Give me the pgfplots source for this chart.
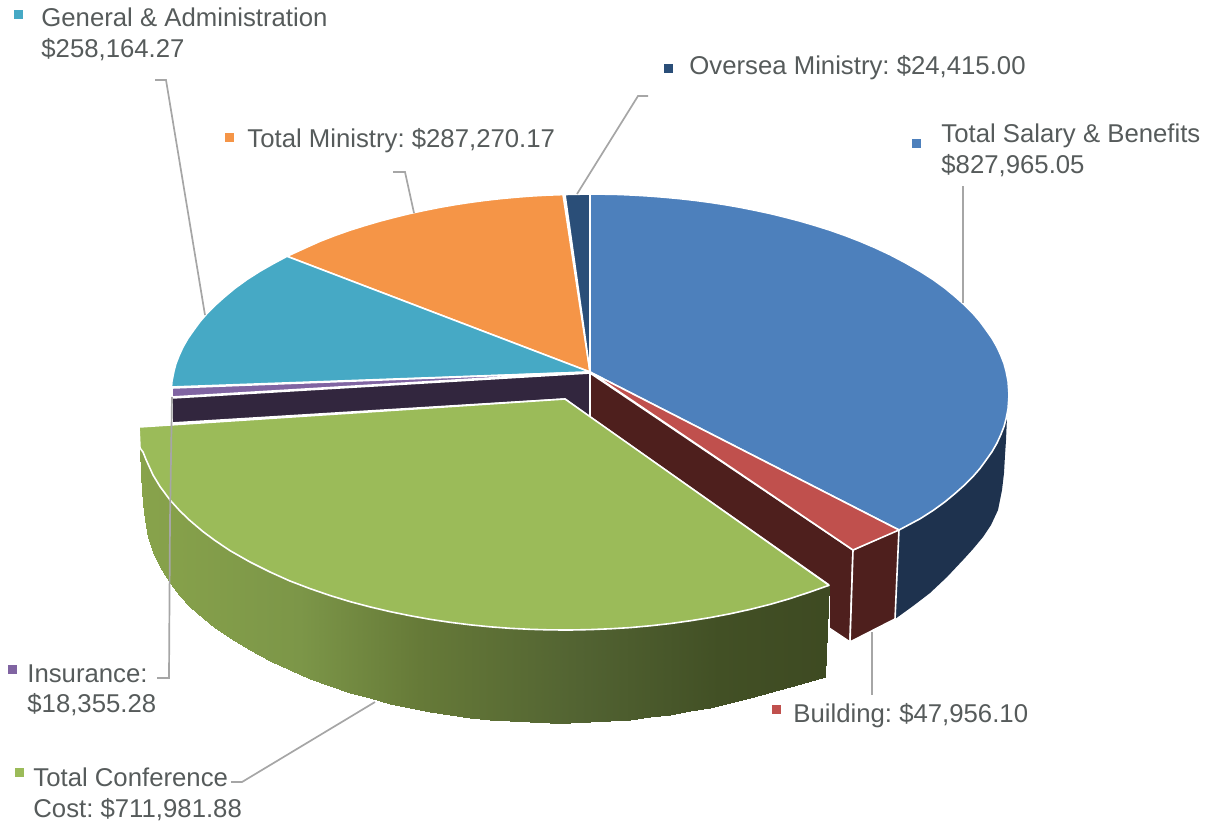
\documentclass[border=0pt]{standalone}
\usepackage{pgfplots}
\pgfplotsset{compat=1.18}
\usepackage{fontspec}
\setmainfont{Liberation Sans}
\frenchspacing

\definecolor{cBlue}{HTML}{4D80BC}
\definecolor{cRed}{HTML}{C0504D}
\definecolor{cGreen}{HTML}{9BBB59}
\definecolor{cPurple}{HTML}{8064A2}
\definecolor{cTeal}{HTML}{46A9C5}
\definecolor{cOrange}{HTML}{F59547}
\definecolor{cNavy}{HTML}{2A4E78}
\definecolor{sBlue}{HTML}{1E324E}
\definecolor{sRed}{HTML}{4E1F1D}
\definecolor{sPurple}{HTML}{32263E}
\definecolor{cLead}{HTML}{A6A6A6}
\definecolor{cText}{HTML}{565B5B}

\tikzset{lab/.style={anchor=base west,text=cText,font=\fontsize{12.87pt}{15pt}\selectfont,inner sep=0pt}}
\pgfplotsset{
  slice/.style={fill=#1,draw=white,line width=0.8pt,line join=round,no markers},
  leader/.style={cLead,line width=0.85pt,no markers},
  key/.style={only marks,mark=square*,mark size=2pt,mark options={fill=#1,draw=#1,line width=0pt}},
}

\begin{document}
\begin{tikzpicture}
\begin{axis}[
  x=0.5pt,y=0.5pt,y dir=reverse,
  xmin=0,xmax=1208,ymin=0,ymax=824,
  hide axis,clip=false,
  scale only axis,
  colormap={sideGreen}{
    rgb255(140)=(136,163,75) rgb255(300)=(124,150,72) rgb255(420)=(102,122,56)
    rgb255(580)=(82,99,50) rgb255(720)=(66,80,37) rgb255(830)=(62,74,34)},
]
% fixes the page to the whole frame
\addplot[draw=none,no markers] coordinates {(0,0) (1208,824)};
% walls
\addplot[fill=sBlue,draw=none,no markers] coordinates {(880,500) (1007,417) (1006,440) (1005,455) (1004,473) (1002,490) (998,510) (991,525) (983,537) (973,549) (963,560) (947,577) (930,593) (913,606) (895,619)} -- cycle;
\addplot[slice=sPurple] coordinates {(590,373) (172,398) (172,423) (565,399) (590,417)} -- cycle;
\addplot[slice=sRed] coordinates {(590,373) (853,550) (850,642) (829,628) (829,585) (590,417)} -- cycle;
\addplot[slice=sRed] coordinates {(853,550) (899,529) (895,619) (850,642)} -- cycle;
% top slices
\addplot[slice=cOrange] coordinates {(590,372) (287,256.3) (304,248.5) (320,241.3) (335,235.5) (350,230.2) (365,225.5) (380,221.1) (395,217.2) (410,213.5) (425,210.3) (440,207.3) (455,204.7) (470,202.4) (485,200.4) (500,198.7) (515,197.3) (530,196.1) (546,195.2) (563,194.6)} -- cycle;
\addplot[slice=cNavy] coordinates {(590,372) (565,194.5) (590,194)} -- cycle;
\addplot[slice=cBlue] coordinates {(590,372) (590,194) (605,194.2) (620,194.5) (635,195.2) (650,196.1) (665,197.3) (680,198.7) (695,200.4) (710,202.4) (725,204.7) (740,207.3) (755,210.3) (770,213.5) (785,217.2) (800,221.1) (815,225.5) (830,230.2) (845,235.5) (860,241.3) (875,247.7) (890,254.7) (905,262.6) (920,271.2) (933,279.5) (945,288.2) (955,296.5) (965,305.4) (973,313.5) (980,321.6) (986,329.8) (992,338.3) (997,347) (1001,355.8) (1004,363.5) (1006,370.9) (1008,381) (1009,395) (1008,409) (1006,419.1) (1004,426.5) (1001,434.2) (997,443) (992,451.7) (986,460.2) (980,468.4) (973,476.5) (965,484.6) (955,493.5) (945,501.8) (933,510.5) (920,518.8) (899,530)} -- cycle;
\addplot[slice=cTeal] coordinates {(590,372) (171.5,387) (172,381) (174,370.9) (176,363.5) (179,355.8) (183,347) (188,338.3) (194,329.8) (200,321.6) (207,313.5) (215,305.4) (225,296.5) (235,288.2) (247,279.5) (260,271.2) (273,263.8) (287,256.3)} -- cycle;
\addplot[slice=cPurple] coordinates {(590,372) (172,388) (172,397)} -- cycle;
\addplot[slice=cRed] coordinates {(590,372) (899,530) (853,550)} -- cycle;
% exploded green slice: side with its gradient, then top
\addplot[surf,shader=interp,mesh/cols=41,mesh/ordering=x varies,point meta=\thisrow{m}] table {
x y m
140 447 140
141 449 141
143 451 143
145 456 145
148 462 148
153 474 153
160 485 160
170 499 170
180 510 180
190 520 190
203 531 203
215 540 215
230 550 230
250 561 250
270 571 270
290 580 290
310 588 310
330 595 330
350 601 350
370 606 370
390 611 390
410 615 410
430 618 430
450 621 450
470 624 470
490 626 490
510 627 510
530 628 530
550 629 550
570 629 570
590 629 590
610 628 610
630 627 630
650 625 650
670 623 670
690 620 690
710 617 710
730 613 730
750 608 750
790 598 790
829 584 829
140 447 140
141 476 141
143 503 143
145 520 145
148 537 148
153 552 153
160 567 160
170 583 170
180 596 180
190 607 190
203 618 203
215 628 215
230 638 230
250 650 250
270 660.5 270
290 670 290
310 678.6 310
330 685.5 330
350 692.6 350
370 698 370
390 703.6 390
410 707.7 410
430 711.8 430
450 715.3 450
470 717.8 470
490 719.8 490
510 721.3 510
530 722.3 530
550 722.9 550
570 723 570
590 722 590
610 720.8 610
630 719.6 630
650 716.8 650
670 714.6 670
690 710.8 690
710 707.6 710
730 702.8 730
750 698.4 750
790 687 790
825 677 825
};
\addplot[slice=cGreen] coordinates {(565,399) (139,427) (140,448) (143,452) (146,459.5) (153,475) (160,486.5) (170,500) (180,511) (190,520.6) (203,531.6) (215,540.5) (230,550.6) (250,562) (270,572) (290,581) (310,588.6) (330,595.5) (350,601.6) (370,606.9) (390,611.6) (410,615.7) (430,619.3) (450,622.3) (470,624.8) (490,626.8) (510,628.3) (530,629.3) (550,629.9) (570,630) (590,629.6) (610,628.8) (630,627.6) (650,625.8) (670,623.6) (690,620.8) (710,617.6) (730,613.8) (750,609.4) (770,604.4) (790,598.6) (810,592) (829,585.3)} -- cycle;
% leader lines
\addplot[leader] coordinates {(963,186) (963,303)};
\addplot[leader] coordinates {(648,96) (638,96) (577,194)};
\addplot[leader] coordinates {(393,172) (405,172) (414,213)};
\addplot[leader] coordinates {(155,80) (166,80) (205,315)};
\addplot[leader] coordinates {(157,678) (169,678) (170,520) (172,397)};
\addplot[leader] coordinates {(872,632) (872,695)};
\addplot[leader] coordinates {(231,782) (242,782) (375,702)};
% legend keys beside the labels
\addplot[key=cTeal] coordinates {(18,15)};
\addplot[key=cNavy] coordinates {(668,69)};
\addplot[key=cOrange] coordinates {(229,137)};
\addplot[key=cBlue] coordinates {(916,143)};
\addplot[key=cRed] coordinates {(776,709)};
\addplot[key=cPurple] coordinates {(12,669)};
\addplot[key=cGreen] coordinates {(19,772)};
% labels
\node[lab] at (axis cs:41,27) {General \& Administration};
\node[lab] at (axis cs:41,58) {\$258,164.27};
\node[lab] at (axis cs:689,75) {Oversea Ministry: \$24,415.00};
\node[lab] at (axis cs:247,147) {Total Ministry: \$287,270.17};
\node[lab] at (axis cs:941,142) {Total Salary \& Benefits};
\node[lab] at (axis cs:941,173) {\$827,965.05};
\node[lab] at (axis cs:793,722) {Building: \$47,956.10};
\node[lab] at (axis cs:27,682) {Insurance:};
\node[lab] at (axis cs:27,712) {\$18,355.28};
\node[lab] at (axis cs:33,786) {Total Conference};
\node[lab] at (axis cs:33,817) {Cost: \$711,981.88};
\end{axis}
\end{tikzpicture}
\end{document}
